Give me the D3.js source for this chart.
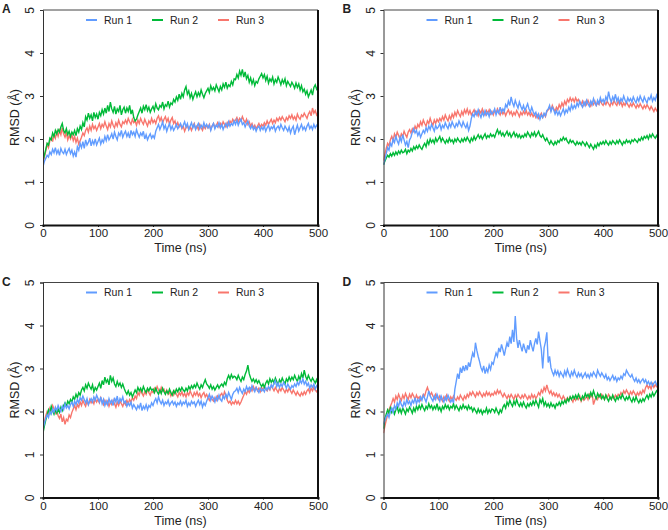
<!DOCTYPE html>
<html>
<head>
<meta charset="utf-8">
<title>RMSD runs</title>
<script src="https://d3js.org/d3.v7.min.js"></script>
<style>
  body { margin: 0; background: #fff; }
  svg text { font-family: "Liberation Sans", Arial, sans-serif; fill: #222; }
</style>
</head>
<body>
<svg id="chart" width="668" height="530"></svg>
<script>
// one sample every 2.5 ns, 0..500 ns (20 samples per row below)
var dt = 2.5;
var runNames = ["Run 1", "Run 2", "Run 3"];
var runColors = ["#619CFF", "#00BA38", "#F8766D"];
var panelLabels = ["A", "B", "C", "D"];
var yTicks = [0, 1, 2, 3, 4, 5];
var xTicks = [0, 100, 200, 300, 400, 500];

var A_run1 = [
 1.35,1.48,1.55,1.62,1.58,1.70,1.64,1.76,1.68,1.80,1.66,1.74,1.62,1.78,1.70,1.66,1.76,1.64,1.72,1.78,
 1.66,1.74,1.60,1.70,1.58,1.82,1.74,1.90,1.80,1.94,1.78,1.98,1.86,1.92,2.02,1.84,1.96,1.88,2.00,1.86,
 1.94,2.02,1.88,1.98,1.92,2.06,1.96,2.10,1.98,2.04,2.12,2.00,2.16,2.06,1.98,2.14,2.08,2.20,2.04,2.12,
 2.18,2.06,2.14,2.02,2.20,2.10,2.16,2.06,2.22,2.12,2.04,2.14,2.08,2.18,2.00,2.10,1.98,2.06,2.12,2.02,
 2.08,2.02,2.18,2.26,2.34,2.22,2.30,2.40,2.24,2.32,2.18,2.28,2.36,2.22,2.30,2.20,2.26,2.34,2.24,2.30,
 2.36,2.26,2.32,2.40,2.28,2.36,2.22,2.30,2.38,2.26,2.34,2.22,2.30,2.36,2.24,2.32,2.26,2.38,2.28,2.34,
 2.26,2.32,2.20,2.30,2.36,2.24,2.32,2.28,2.38,2.26,2.34,2.22,2.30,2.36,2.28,2.40,2.30,2.36,2.32,2.42,
 2.34,2.44,2.32,2.40,2.46,2.34,2.38,2.28,2.36,2.42,2.30,2.24,2.32,2.22,2.28,2.18,2.26,2.30,2.20,2.28,
 2.22,2.30,2.18,2.26,2.32,2.20,2.28,2.24,2.32,2.18,2.26,2.30,2.22,2.34,2.26,2.20,2.30,2.24,2.18,2.28,
 2.14,2.24,2.30,2.10,2.22,2.32,2.18,2.26,2.34,2.22,2.28,2.20,2.30,2.36,2.24,2.30,2.22,2.34,2.26,2.32,
 2.28];
var A_run2 = [
 1.50,1.62,1.76,1.90,1.86,2.02,1.98,2.14,2.06,2.20,2.12,2.22,2.16,2.28,2.36,2.20,2.14,2.24,2.10,2.18,
 2.06,2.16,2.10,2.20,2.08,2.24,2.16,2.30,2.22,2.38,2.28,2.52,2.44,2.60,2.48,2.56,2.42,2.62,2.50,2.58,
 2.46,2.62,2.54,2.68,2.58,2.72,2.60,2.78,2.64,2.86,2.70,2.62,2.76,2.58,2.70,2.64,2.78,2.56,2.68,2.74,
 2.60,2.72,2.64,2.78,2.58,2.68,2.50,2.42,2.46,2.56,2.64,2.72,2.60,2.76,2.68,2.80,2.66,2.74,2.62,2.70,
 2.76,2.66,2.82,2.72,2.68,2.78,2.74,2.86,2.70,2.80,2.76,2.88,2.74,2.84,2.80,2.92,2.86,2.98,2.90,3.04,
 2.92,3.06,2.98,3.14,3.22,3.04,3.12,2.96,3.06,2.92,3.02,3.10,2.98,3.08,3.00,3.14,3.04,2.96,3.06,3.12,
 3.18,3.08,3.24,3.14,3.20,3.12,3.26,3.18,3.10,3.22,3.14,3.28,3.20,3.32,3.18,3.26,3.22,3.34,3.26,3.40,
 3.38,3.50,3.42,3.58,3.48,3.62,3.44,3.56,3.40,3.48,3.32,3.42,3.28,3.38,3.24,3.34,3.30,3.40,3.46,3.52,
 3.42,3.50,3.36,3.46,3.30,3.40,3.34,3.44,3.28,3.38,3.32,3.44,3.36,3.26,3.38,3.30,3.40,3.24,3.34,3.28,
 3.22,3.32,3.26,3.18,3.30,3.20,3.28,3.14,3.24,3.10,3.16,3.04,3.12,2.98,3.06,3.14,3.02,3.20,3.26,3.16,
 3.22];
var A_run3 = [
 1.40,1.58,1.72,1.88,1.80,1.96,2.04,1.94,2.12,2.02,2.16,2.06,2.20,2.10,2.26,2.12,2.04,2.14,1.98,2.08,
 2.00,2.10,1.96,2.06,1.92,2.02,1.88,1.96,2.04,2.14,2.08,2.20,2.26,2.16,2.30,2.20,2.34,2.24,2.30,2.20,
 2.28,2.36,2.24,2.34,2.28,2.40,2.30,2.22,2.36,2.28,2.42,2.32,2.26,2.38,2.30,2.44,2.34,2.28,2.40,2.36,
 2.44,2.36,2.48,2.40,2.34,2.46,2.38,2.42,2.32,2.44,2.36,2.48,2.40,2.34,2.46,2.38,2.30,2.42,2.36,2.48,
 2.38,2.44,2.36,2.48,2.54,2.42,2.50,2.38,2.46,2.52,2.40,2.48,2.34,2.44,2.50,2.36,2.42,2.30,2.38,2.28,
 2.34,2.24,2.30,2.18,2.26,2.32,2.22,2.28,2.20,2.30,2.36,2.24,2.30,2.22,2.34,2.26,2.20,2.30,2.24,2.32,
 2.26,2.34,2.22,2.30,2.36,2.26,2.32,2.38,2.28,2.36,2.30,2.40,2.34,2.28,2.38,2.32,2.42,2.36,2.46,2.40,
 2.44,2.50,2.40,2.48,2.42,2.52,2.44,2.38,2.46,2.34,2.40,2.30,2.36,2.26,2.32,2.24,2.30,2.36,2.28,2.34,
 2.30,2.38,2.32,2.42,2.34,2.40,2.46,2.36,2.44,2.38,2.48,2.42,2.50,2.44,2.52,2.46,2.40,2.50,2.44,2.54,
 2.48,2.56,2.46,2.52,2.44,2.58,2.50,2.46,2.56,2.52,2.60,2.54,2.48,2.58,2.64,2.54,2.72,2.60,2.66,2.56,
 2.62];

var B_run1 = [
 1.40,1.52,1.66,1.80,1.74,1.90,1.84,2.00,1.92,2.06,1.96,1.88,2.04,1.94,2.10,1.98,1.86,1.94,1.80,1.98,
 2.04,2.16,2.24,2.14,2.20,2.08,2.16,2.04,2.12,2.20,2.14,2.26,2.18,2.30,2.22,2.34,2.26,2.18,2.32,2.24,
 2.28,2.36,2.22,2.32,2.26,2.38,2.30,2.24,2.36,2.28,2.40,2.32,2.26,2.36,2.30,2.42,2.34,2.28,2.40,2.32,
 2.26,2.36,2.20,2.30,2.48,2.58,2.52,2.64,2.56,2.68,2.58,2.50,2.62,2.54,2.66,2.56,2.62,2.52,2.66,2.58,
 2.62,2.70,2.56,2.66,2.60,2.74,2.62,2.70,2.64,2.80,2.74,2.88,2.78,2.98,2.84,2.76,2.90,2.80,2.72,2.86,
 2.76,2.68,2.78,2.66,2.74,2.82,2.70,2.62,2.74,2.64,2.56,2.62,2.50,2.58,2.46,2.56,2.50,2.60,2.54,2.66,
 2.70,2.78,2.64,2.74,2.68,2.58,2.66,2.56,2.64,2.54,2.62,2.70,2.58,2.68,2.62,2.74,2.66,2.80,2.70,2.78,
 2.72,2.84,2.76,2.88,2.80,2.74,2.86,2.78,2.90,2.82,2.76,2.88,2.80,2.94,2.84,2.78,2.90,2.82,2.96,2.86,
 2.92,2.84,2.98,2.90,3.10,2.94,2.86,2.98,2.90,3.04,2.88,2.96,2.84,2.94,2.88,3.00,2.90,2.84,2.96,2.88,
 2.94,2.86,2.98,2.90,2.84,2.96,2.88,3.00,2.92,2.86,2.98,2.90,2.84,2.96,2.92,3.02,2.88,2.96,2.90,3.02,
 2.94];
var B_run2 = [
 1.40,1.48,1.56,1.62,1.58,1.66,1.60,1.68,1.62,1.70,1.64,1.72,1.66,1.74,1.68,1.70,1.76,1.66,1.74,1.70,
 1.78,1.72,1.82,1.76,1.84,1.78,1.86,1.80,1.76,1.84,1.90,1.82,1.96,1.88,2.00,1.92,1.98,1.90,2.02,1.94,
 2.00,2.06,1.94,2.02,1.96,1.90,1.98,1.92,2.02,1.94,1.98,1.90,2.00,1.94,2.02,1.96,1.92,2.00,1.94,2.02,
 1.96,2.04,1.98,1.92,2.02,1.96,2.06,1.98,2.04,2.10,2.02,2.08,2.00,2.06,2.12,2.02,2.08,2.04,2.12,2.06,
 2.10,2.04,2.14,2.22,2.12,2.18,2.08,2.14,2.06,2.12,2.18,2.08,2.14,2.04,2.10,2.16,2.06,2.12,2.04,2.10,
 2.02,2.08,2.04,2.12,2.06,2.16,2.10,2.04,2.14,2.08,2.16,2.06,2.12,2.18,2.08,2.04,2.10,2.02,1.96,2.02,
 1.94,1.88,1.96,1.90,1.86,1.94,1.88,1.96,1.92,2.00,1.96,2.04,1.98,2.02,1.94,1.90,1.98,1.92,1.96,1.90,
 1.86,1.94,1.88,1.92,1.86,1.94,1.90,1.84,1.92,1.86,1.80,1.88,1.82,1.76,1.86,1.80,1.90,1.84,1.92,1.88,
 1.94,1.88,1.96,1.90,1.86,1.94,1.88,1.96,1.92,1.88,1.96,1.90,1.98,1.92,1.86,1.94,1.90,1.98,1.92,1.96,
 1.90,1.98,1.94,2.00,1.96,1.92,2.00,1.96,2.04,1.98,2.06,2.02,2.08,2.00,2.10,2.04,2.12,2.06,2.02,2.08,
 2.02];
var B_run3 = [
 1.50,1.64,1.78,1.90,1.84,1.98,2.06,1.96,2.12,2.04,2.16,2.08,2.00,2.12,2.06,2.18,2.10,2.04,2.16,2.22,
 2.14,2.24,2.18,2.30,2.22,2.34,2.28,2.40,2.32,2.44,2.36,2.30,2.42,2.36,2.48,2.38,2.32,2.44,2.36,2.46,
 2.40,2.48,2.42,2.52,2.44,2.56,2.48,2.42,2.54,2.46,2.58,2.50,2.62,2.54,2.66,2.58,2.52,2.64,2.56,2.68,
 2.60,2.70,2.58,2.66,2.56,2.62,2.68,2.58,2.64,2.54,2.66,2.60,2.70,2.62,2.56,2.66,2.60,2.68,2.58,2.64,
 2.56,2.66,2.60,2.70,2.62,2.56,2.66,2.58,2.64,2.54,2.62,2.68,2.58,2.64,2.54,2.62,2.56,2.66,2.60,2.52,
 2.62,2.56,2.64,2.58,2.66,2.56,2.62,2.54,2.60,2.52,2.58,2.50,2.56,2.48,2.54,2.60,2.50,2.58,2.52,2.64,
 2.68,2.74,2.66,2.78,2.70,2.64,2.74,2.68,2.80,2.72,2.84,2.76,2.88,2.80,2.92,2.86,2.96,2.88,2.94,2.86,
 2.96,2.88,2.92,2.84,2.80,2.88,2.78,2.86,2.80,2.90,2.82,2.76,2.86,2.80,2.88,2.78,2.84,2.80,2.90,2.82,
 2.78,2.86,2.80,2.88,2.82,2.76,2.86,2.80,2.90,2.82,2.78,2.88,2.80,2.86,2.76,2.84,2.78,2.86,2.80,2.74,
 2.82,2.76,2.84,2.78,2.72,2.80,2.74,2.82,2.76,2.70,2.78,2.72,2.80,2.74,2.68,2.76,2.70,2.64,2.72,2.66,
 2.70];

var C_run1 = [
 1.60,1.72,1.84,1.92,1.86,2.00,1.94,2.06,1.98,2.10,2.02,2.14,2.06,2.00,2.12,2.04,2.18,2.08,2.14,2.06,
 2.16,2.22,2.12,2.24,2.16,2.28,2.20,2.32,2.26,2.36,2.28,2.20,2.30,2.16,2.24,2.30,2.22,2.34,2.26,2.38,
 2.30,2.22,2.34,2.18,2.28,2.14,2.24,2.16,2.30,2.20,2.26,2.14,2.32,2.22,2.36,2.18,2.30,2.24,2.34,2.20,
 2.24,2.12,2.20,2.14,2.22,2.08,2.16,2.10,2.04,2.14,2.08,2.20,2.02,2.12,2.06,2.16,2.04,2.14,2.10,2.20,
 2.14,2.24,2.30,2.20,2.34,2.24,2.18,2.26,2.14,2.22,2.18,2.26,2.14,2.20,2.24,2.16,2.22,2.12,2.20,2.16,
 2.24,2.14,2.22,2.18,2.26,2.12,2.20,2.14,2.24,2.18,2.22,2.12,2.20,2.26,2.16,2.24,2.10,2.20,2.14,2.24,
 2.32,2.40,2.26,2.36,2.30,2.22,2.34,2.26,2.38,2.28,2.24,2.36,2.30,2.40,2.32,2.44,2.36,2.28,2.40,2.46,
 2.48,2.54,2.44,2.56,2.48,2.42,2.52,2.46,2.58,2.50,2.56,2.48,2.60,2.52,2.46,2.56,2.50,2.44,2.54,2.48,
 2.52,2.46,2.56,2.50,2.58,2.52,2.62,2.56,2.66,2.72,2.58,2.66,2.56,2.64,2.58,2.68,2.62,2.54,2.64,2.58,
 2.52,2.60,2.56,2.64,2.58,2.68,2.62,2.72,2.66,2.76,2.64,2.70,2.60,2.66,2.54,2.62,2.56,2.64,2.52,2.60,
 2.55];
var C_run2 = [
 1.50,1.66,1.80,1.92,2.04,1.96,2.12,2.02,1.94,2.04,1.96,2.06,1.98,2.10,2.02,2.14,2.20,2.12,2.24,2.18,
 2.28,2.22,2.34,2.28,2.40,2.32,2.44,2.38,2.50,2.56,2.48,2.62,2.54,2.66,2.58,2.52,2.62,2.46,2.56,2.50,
 2.58,2.66,2.54,2.72,2.62,2.80,2.68,2.74,2.62,2.84,2.70,2.78,2.64,2.58,2.70,2.60,2.66,2.56,2.64,2.54,
 2.46,2.40,2.48,2.38,2.44,2.34,2.42,2.50,2.44,2.56,2.48,2.54,2.46,2.58,2.50,2.44,2.54,2.48,2.56,2.50,
 2.52,2.44,2.54,2.46,2.40,2.50,2.42,2.54,2.46,2.40,2.48,2.42,2.52,2.44,2.38,2.48,2.42,2.52,2.46,2.54,
 2.48,2.56,2.50,2.46,2.54,2.48,2.58,2.52,2.60,2.54,2.62,2.56,2.66,2.58,2.52,2.62,2.56,2.66,2.74,2.64,
 2.60,2.54,2.62,2.52,2.58,2.50,2.56,2.62,2.54,2.60,2.64,2.58,2.68,2.62,2.76,2.84,2.76,2.86,2.78,2.82,
 2.80,2.74,2.84,2.76,2.70,2.80,2.74,2.86,2.94,3.08,2.88,2.78,2.70,2.76,2.68,2.74,2.66,2.72,2.64,2.58,
 2.64,2.56,2.66,2.72,2.64,2.76,2.68,2.74,2.66,2.78,2.70,2.62,2.74,2.68,2.78,2.70,2.64,2.76,2.70,2.80,
 2.72,2.80,2.74,2.84,2.76,2.70,2.82,2.74,2.88,2.78,2.96,2.82,2.74,2.84,2.76,2.70,2.78,2.72,2.66,2.74,
 2.64];
var C_run3 = [
 1.60,1.76,1.90,2.00,1.94,2.08,2.02,2.14,2.06,1.96,2.04,1.90,1.84,1.94,1.76,1.86,1.70,1.82,1.78,1.92,
 1.86,1.98,2.06,2.14,2.04,2.16,2.10,2.22,2.14,2.26,2.18,2.12,2.24,2.16,2.28,2.20,2.26,2.18,2.30,2.22,
 2.28,2.20,2.32,2.24,2.16,2.26,2.18,2.24,2.12,2.22,2.16,2.26,2.18,2.10,2.22,2.14,2.24,2.18,2.12,2.22,
 2.16,2.26,2.18,2.28,2.22,2.32,2.26,2.36,2.30,2.44,2.38,2.50,2.42,2.36,2.46,2.40,2.52,2.44,2.38,2.48,
 2.44,2.54,2.48,2.58,2.50,2.44,2.56,2.48,2.52,2.42,2.50,2.40,2.46,2.36,2.44,2.38,2.48,2.40,2.34,2.44,
 2.38,2.46,2.36,2.42,2.34,2.44,2.38,2.48,2.40,2.34,2.44,2.38,2.46,2.36,2.42,2.32,2.40,2.44,2.34,2.40,
 2.32,2.26,2.34,2.28,2.24,2.32,2.26,2.36,2.30,2.38,2.42,2.34,2.46,2.38,2.26,2.20,2.24,2.16,2.22,2.18,
 2.26,2.18,2.24,2.16,2.22,2.30,2.38,2.46,2.40,2.50,2.44,2.54,2.48,2.58,2.50,2.56,2.48,2.54,2.46,2.56,
 2.50,2.58,2.52,2.48,2.56,2.50,2.60,2.54,2.48,2.56,2.50,2.44,2.54,2.48,2.56,2.50,2.44,2.52,2.46,2.54,
 2.48,2.42,2.50,2.44,2.38,2.46,2.40,2.36,2.44,2.38,2.46,2.40,2.48,2.52,2.44,2.54,2.48,2.56,2.50,2.46,
 2.52];

var D_run1 = [
 1.70,1.80,1.88,1.94,1.86,2.00,2.08,1.98,2.14,2.06,2.20,2.12,2.26,2.16,2.10,2.22,2.14,2.28,2.18,2.24,
 2.14,2.26,2.20,2.32,2.18,2.28,2.22,2.34,2.26,2.38,2.30,2.22,2.34,2.48,2.36,2.30,2.24,2.36,2.28,2.40,
 2.32,2.24,2.36,2.28,2.22,2.34,2.26,2.38,2.30,2.22,2.28,2.20,2.52,2.70,2.88,2.76,3.02,2.90,3.06,2.94,
 3.08,2.96,3.14,3.04,3.22,3.36,3.26,3.60,3.42,3.28,3.16,3.02,2.94,3.06,2.88,3.00,2.92,3.08,2.98,3.14,
 3.10,3.24,3.36,3.28,3.48,3.38,3.56,3.44,3.30,3.46,3.60,3.50,3.74,3.58,3.90,3.62,4.22,3.70,3.48,3.66,
 3.52,3.40,3.58,3.46,3.36,3.54,3.44,3.66,3.52,3.40,3.58,3.70,3.56,3.86,3.64,3.44,3.00,3.48,3.62,3.84,
 3.14,3.28,3.02,2.92,2.84,2.96,2.86,2.94,2.82,2.92,2.86,2.80,2.94,2.84,2.98,2.88,2.80,2.92,2.84,2.96,
 2.86,2.80,2.90,2.82,2.88,2.78,2.84,2.90,2.80,2.86,2.78,2.88,2.82,2.92,2.86,2.80,2.96,2.88,2.82,2.90,
 2.84,2.78,2.86,2.74,2.80,2.72,2.78,2.84,2.74,2.80,2.70,2.78,2.74,2.82,2.76,2.88,2.84,2.96,2.90,2.84,
 2.80,2.86,2.76,2.70,2.78,2.68,2.74,2.66,2.72,2.76,2.68,2.74,2.64,2.70,2.62,2.68,2.60,2.66,2.70,2.62,
 2.66];
var D_run2 = [
 1.60,1.82,1.94,2.04,1.96,2.08,1.98,2.06,1.94,2.04,2.10,1.98,2.06,1.96,2.08,2.02,1.94,2.06,2.00,2.10,
 2.04,1.96,2.08,2.00,2.12,2.04,2.14,2.06,2.16,2.08,2.02,2.12,2.06,2.18,2.08,2.14,2.04,2.12,2.06,2.18,
 2.04,2.10,2.00,2.12,2.06,2.16,2.08,2.14,2.04,2.12,2.08,2.18,2.06,2.14,2.08,2.02,2.12,2.06,2.16,2.08,
 2.12,2.04,2.14,2.06,2.10,2.00,2.08,2.02,1.96,2.06,1.98,2.04,1.94,2.02,1.98,2.08,1.96,2.04,1.98,2.06,
 2.04,1.98,2.08,2.00,1.94,2.04,1.98,2.10,2.16,2.08,2.22,2.14,2.26,2.18,2.12,2.24,2.16,2.28,2.18,2.12,
 2.20,2.12,2.22,2.14,2.08,2.18,2.12,2.20,2.14,2.24,2.16,2.26,2.18,2.10,2.28,2.20,2.30,2.14,2.22,2.12,
 2.18,2.10,2.20,2.12,2.16,2.08,2.18,2.14,2.22,2.14,2.24,2.18,2.26,2.20,2.30,2.24,2.34,2.28,2.36,2.30,
 2.38,2.30,2.40,2.32,2.26,2.36,2.30,2.42,2.34,2.40,2.32,2.44,2.36,2.48,2.38,2.30,2.42,2.34,2.40,2.30,
 2.36,2.28,2.38,2.30,2.24,2.34,2.28,2.38,2.30,2.24,2.34,2.28,2.36,2.30,2.40,2.32,2.26,2.34,2.28,2.36,
 2.28,2.22,2.32,2.24,2.34,2.26,2.20,2.28,2.22,2.30,2.24,2.32,2.38,2.30,2.40,2.34,2.44,2.36,2.42,2.48,
 2.44];
var D_run3 = [
 1.50,1.66,1.80,1.92,2.04,2.12,2.20,2.30,2.22,2.36,2.28,2.40,2.32,2.26,2.38,2.30,2.42,2.34,2.28,2.40,
 2.32,2.42,2.36,2.28,2.38,2.30,2.34,2.26,2.32,2.40,2.36,2.48,2.56,2.46,2.38,2.44,2.36,2.30,2.40,2.34,
 2.28,2.36,2.30,2.24,2.34,2.28,2.38,2.30,2.24,2.34,2.28,2.36,2.30,2.26,2.34,2.28,2.38,2.32,2.26,2.36,
 2.30,2.40,2.34,2.44,2.38,2.46,2.40,2.34,2.44,2.38,2.46,2.40,2.34,2.42,2.36,2.46,2.38,2.44,2.36,2.42,
 2.38,2.46,2.40,2.50,2.42,2.48,2.40,2.34,2.42,2.36,2.30,2.38,2.32,2.40,2.34,2.28,2.38,2.32,2.40,2.34,
 2.30,2.38,2.32,2.40,2.34,2.28,2.36,2.30,2.40,2.32,2.38,2.30,2.36,2.44,2.38,2.50,2.44,2.56,2.48,2.62,
 2.50,2.42,2.48,2.38,2.44,2.36,2.42,2.34,2.40,2.32,2.28,2.36,2.30,2.24,2.32,2.26,2.34,2.28,2.22,2.32,
 2.26,2.34,2.28,2.36,2.24,2.32,2.26,2.30,2.36,2.28,2.40,2.34,2.42,2.16,2.26,2.34,2.28,2.38,2.32,2.40,
 2.34,2.28,2.38,2.32,2.40,2.34,2.28,2.36,2.30,2.38,2.32,2.40,2.36,2.44,2.38,2.48,2.42,2.50,2.44,2.38,
 2.46,2.40,2.48,2.42,2.36,2.44,2.38,2.46,2.40,2.50,2.44,2.56,2.62,2.54,2.60,2.52,2.64,2.56,2.62,2.58,
 2.62];

var panelData = [
  [A_run1, A_run2, A_run3],
  [B_run1, B_run2, B_run3],
  [C_run1, C_run2, C_run3],
  [D_run1, D_run2, D_run3]
];

// panel frames (plot area in page pixels)
var frames = [
  {x0: 43, x1: 318, y0: 10, y1: 225},
  {x0: 383.5, x1: 658, y0: 10, y1: 225},
  {x0: 43, x1: 318, y0: 282.5, y1: 497.5},
  {x0: 383.5, x1: 658, y0: 282.5, y1: 497.5}
];

var svg = d3.select("#chart");

frames.forEach(function(f, p) {
  var x = d3.scaleLinear().domain([0, 500]).range([f.x0, f.x1]);
  var y = d3.scaleLinear().domain([0, 5]).range([f.y1, f.y0]);
  var g = svg.append("g");

  // clip so lines stay inside the box
  var clipId = "clip" + p;
  svg.append("clipPath").attr("id", clipId)
    .append("rect").attr("x", f.x0).attr("y", f.y0)
    .attr("width", f.x1 - f.x0).attr("height", f.y1 - f.y0);

  var line = d3.line()
    .x(function(d, i) { return x(i * dt); })
    .y(function(d) { return y(d); });

  // draw run 3 first, run 1 on top
  [2, 1, 0].forEach(function(r) {
    g.append("path")
      .attr("clip-path", "url(#" + clipId + ")")
      .attr("d", line(panelData[p][r]))
      .attr("fill", "none")
      .attr("stroke", runColors[r])
      .attr("stroke-width", 1.4);
  });

  // y axis
  var yAxis = g.append("g")
    .attr("transform", "translate(" + f.x0 + ",0)")
    .call(d3.axisLeft(y).tickValues(yTicks).tickSize(3).tickPadding(0).tickFormat(d3.format("d")));
  yAxis.select(".domain").attr("stroke", "#333").attr("stroke-width", 1);
  yAxis.selectAll(".tick line").attr("stroke", "#333");
  yAxis.selectAll(".tick text").remove();
  yAxis.selectAll(".tick").append("text")
    .attr("transform", "translate(-13,0) rotate(-90)")
    .attr("text-anchor", "middle")
    .attr("dy", "0.35em")
    .style("font-size", "12px")
    .text(function(d) { return d; });

  // x axis
  var xAxis = g.append("g")
    .attr("transform", "translate(0," + f.y1 + ")")
    .call(d3.axisBottom(x).tickValues(xTicks).tickSize(2).tickPadding(2));
  xAxis.select(".domain").attr("stroke", "#111").attr("stroke-width", 2);
  xAxis.selectAll(".tick line").attr("stroke", "#111");
  xAxis.selectAll(".tick text").style("font-size", "11.5px").attr("fill", "#222");

  // top and right border
  g.append("line").attr("x1", f.x0).attr("x2", f.x1).attr("y1", f.y0).attr("y2", f.y0)
    .attr("stroke", "#444").attr("stroke-width", 1);
  g.append("line").attr("x1", f.x1).attr("x2", f.x1).attr("y1", f.y0).attr("y2", f.y1 + 1)
    .attr("stroke", "#111").attr("stroke-width", 2);

  // axis titles
  g.append("text")
    .attr("x", (f.x0 + f.x1) / 2).attr("y", f.y1 + 27)
    .attr("text-anchor", "middle")
    .style("font-size", "12.5px")
    .text("Time (ns)");
  g.append("text")
    .attr("transform", "translate(" + (f.x0 - 28) + "," + ((f.y0 + f.y1) / 2) + ") rotate(-90)")
    .attr("text-anchor", "middle")
    .attr("dy", "0.35em")
    .style("font-size", "12.5px")
    .text("RMSD (Å)");

  // panel letter
  g.append("text")
    .attr("x", f.x0 - 41).attr("y", f.y0 + 3)
    .style("font-size", "12px")
    .style("font-weight", "bold")
    .text(panelLabels[p]);

  // legend
  var leg = g.append("g").attr("transform", "translate(" + (f.x0 + 43) + "," + (f.y0 + 10) + ")");
  runNames.forEach(function(name, r) {
    var item = leg.append("g").attr("transform", "translate(" + (r * 66) + ",0)");
    item.append("line").attr("x1", 0).attr("x2", 11).attr("y1", 0).attr("y2", 0)
      .attr("stroke", runColors[r]).attr("stroke-width", 2);
    item.append("text").attr("x", 18).attr("dy", "0.35em")
      .style("font-size", "10.5px")
      .text(name);
  });
});
</script>
</body>
</html>
